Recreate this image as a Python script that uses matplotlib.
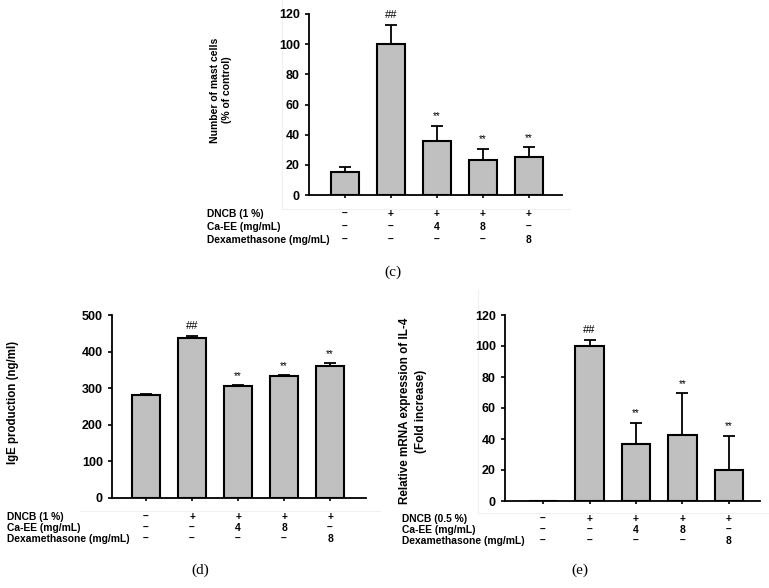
# Three-panel bar chart: mast cells, IgE production, IL-4 mRNA expression
import matplotlib
matplotlib.use("Agg")
import matplotlib.pyplot as plt
from matplotlib.transforms import blended_transform_factory
from matplotlib.lines import Line2D

plt.rcParams['font.family'] = ['Liberation Sans', 'DejaVu Sans']
plt.rcParams['font.weight'] = 'bold'

# Data
groups = [0, 1, 2, 3, 4]
marks = ['', '##', '**', '**', '**']
dncb = ['–', '+', '+', '+', '+']
caee = ['–', '–', '4', '8', '–']
dexa = ['–', '–', '–', '–', '8']

mast_cells = [15, 100, 36, 23.5, 25.5]
mast_err = [3.5, 13, 10, 7, 6]

ige = [281, 437, 305, 332, 361]
ige_err = [2, 6, 3, 3, 7]

il4 = [0, 100, 36.5, 42.5, 20]
il4_err = [0, 4, 14, 27, 22]

W, H = 769, 588
fig = plt.figure(figsize=(W / 100, H / 100), dpi=100)


def px_axes(left, top, right, bottom):
    ax = fig.add_axes([left / W, 1 - bottom / H, (right - left) / W, (bottom - top) / H])
    ax.set_facecolor('none')
    return ax


def panel(ax, vals, errs, ymax, ystep, xlim, dncb_label, row_y, label_x, tag, tag_xy):
    ax.bar(groups, vals, width=0.61, color='#c0c0c0', edgecolor='black', linewidth=1.5, zorder=2)
    for x, v, e, m in zip(groups, vals, errs, marks):
        if e > 0:
            ax.errorbar(x, v, yerr=[[0], [e]], fmt='none', ecolor='black',
                        elinewidth=1.3, capsize=4.5, capthick=1.3, zorder=1)
        if m:
            ax.text(x, v + e + ymax * 0.025, m, ha='center', va='bottom',
                    fontsize=7 if m == '**' else 8, fontweight='normal')
    ax.set_xlim(*xlim)
    ax.set_ylim(0, ymax)
    ax.set_yticks(range(0, ymax + 1, ystep))
    ax.set_xticks(groups)
    ax.set_xticklabels([])
    for s in ['top', 'right']:
        ax.spines[s].set_visible(False)
    for s in ['left', 'bottom']:
        ax.spines[s].set_linewidth(1.3)
    ax.tick_params(axis='both', direction='out', length=3, width=1.2, labelsize=9)
    ax.tick_params(axis='x', length=2.5)
    for lab in ax.get_yticklabels():
        lab.set_fontweight('bold')

    tr = blended_transform_factory(ax.transData, fig.transFigure)
    rows = [dncb_label, 'Ca-EE (mg/mL)', 'Dexamethasone (mg/mL)']
    for label, vals_row, y in zip(rows, [dncb, caee, dexa], row_y):
        fig.text(label_x / W, 1 - y / H, label, ha='left', va='center', fontsize=7.4)
        for x, t in zip(groups, vals_row):
            fig.text(x, 1 - y / H, t, transform=tr, ha='center', va='center', fontsize=7.4)
    fig.text(tag_xy[0] / W, 1 - tag_xy[1] / H, tag, ha='center', va='center',
             fontsize=11, fontweight='normal', family='Liberation Serif')


# faint frames around the original graphics (behind everything)
for xs, ys in [([282, 282, 570], [0, 209, 209]),
               ([80, 380], [511, 511]),
               ([478, 478, 769], [290, 513, 513])]:
    fig.add_artist(Line2D([x / W for x in xs], [1 - y / H for y in ys],
                          color='#f0f0f0', linewidth=0.8, zorder=-5))

# (c) mast cells
ax_c = px_axes(309, 14, 562, 195)
panel(ax_c, mast_cells, mast_err, 120, 20, (-0.78, 4.72), 'DNCB (1 %)',
      [214, 227, 240], 207, '(c)', (393, 272))
fig.text(221 / W, 1 - 90 / H, 'Number of mast cells\n(% of control)', rotation=90,
         ha='center', va='center', fontsize=7.5, multialignment='center', linespacing=1.35)

# (d) IgE production
ax_d = px_axes(112, 315, 366, 498)
panel(ax_d, ige, ige_err, 500, 100, (-0.74, 4.78), 'DNCB (1 %)',
      [517, 528, 539], 7, '(d)', (200, 570))
fig.text(13 / W, 1 - 402 / H, 'IgE production (ng/ml)', rotation=90,
         ha='center', va='center', fontsize=8.3)

# (e) IL-4 mRNA expression
ax_e = px_axes(505, 315, 760, 501)
panel(ax_e, il4, il4_err, 120, 20, (-0.82, 4.67), 'DNCB (0.5 %)',
      [519, 530, 541], 402, '(e)', (580, 570))
fig.text(413 / W, 1 - 411 / H, 'Relative mRNA expression of IL-4\n(Fold increase)', rotation=90,
         ha='center', va='center', fontsize=8.4, multialignment='center', linespacing=1.35)

fig.savefig('out.png', dpi=100)
